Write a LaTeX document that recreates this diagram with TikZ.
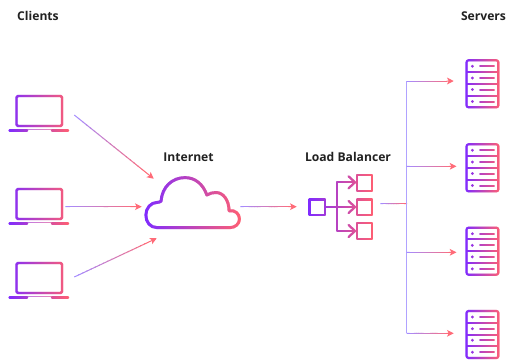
\documentclass[tikz,border=0pt]{standalone}
\usepackage{fontspec}
\setmainfont{Open Sans}
\usetikzlibrary{arrows.meta,calc}
\definecolor{gradA}{HTML}{7F2BFF}
\definecolor{gradB}{HTML}{FF5F72}
\definecolor{connA}{HTML}{A58CFF}
\definecolor{connB}{HTML}{FF6B78}
\definecolor{busline}{HTML}{B0A2FF}
\definecolor{labelc}{HTML}{222222}
\tikzset{
  label text/.style={font=\bfseries\fontsize{9.1}{11}\selectfont,text=labelc,inner sep=0pt},
  laptop box/.style={inner sep=0pt,minimum width=45.75pt,minimum height=27.75pt},
  server box/.style={inner sep=0pt,minimum width=25.5pt,minimum height=36.75pt},
  cloud box/.style={inner sep=0pt,minimum width=70.5pt,minimum height=37.5pt},
  lb box/.style={inner sep=0pt,minimum width=47.25pt,minimum height=47.25pt},
  conn line/.style={line width=0.75pt},
  bus line/.style={line width=0.8pt,color=busline},
  conn tip/.style={-{Stealth[length=5pt,width=5pt,inset=1.2pt]}},
  icon line/.style={line width=1.6pt,line join=round},
  fine line/.style={line width=1.5pt},
}
% vertical strips, each one colour: #1 left x, #2 right x, #3 drawing
\newcommand\gradicon[3]{%
  \pgfmathtruncatemacro\gradn{#2-#1}%
  \foreach \k in {0,...,\gradn}{%
    \pgfmathsetmacro\gradt{100*\k/\gradn}%
    \begin{scope}
      \clip ({#1+\k},-400) rectangle ({#1+\k+1.3},800);
      \begin{scope}[color=gradB!\gradt!gradA]
        #3
      \end{scope}
    \end{scope}
  }%
}
\newcommand\gradarrow[2]{%
  \foreach \k in {0,...,16}{%
    \pgfmathsetmacro\gradt{100*\k/18}%
    \draw[conn line,color=connB!\gradt!connA] ($(#1)!{\k/20}!(#2)$) -- ($(#1)!{(\k+1.2)/20}!(#2)$);
  }%
  \draw[conn line,conn tip,color=connB] ($(#1)!0.85!(#2)$) -- (#2);
}
\newcommand\laptopicon[1]{%
  \begin{scope}[shift={(0,#1)}]
  \gradicon{8}{69}{%
    \draw[line width=1.8pt,line join=round,rounded corners=1pt] (16.5,0) rectangle (62,30);
    \draw[line width=1.8pt,line cap=round] (9.5,34.4) -- (27,34.4);
    \draw[line width=1.8pt,line cap=round] (52,34.4) -- (68,34.4);
    \draw[line width=0.7pt,opacity=0.6] (27,33.8) -- (52,33.8);
  }
  \end{scope}%
}
\newcommand\servericon[1]{%
  \begin{scope}[shift={(0,#1)}]
  \gradicon{465}{500}{%
    \draw[icon line,rounded corners=1.5pt] (466.5,1) rectangle (498.3,48);
    \draw[fine line] (466,12.75) -- (498.5,12.75);
    \draw[fine line] (466,24.5) -- (498.5,24.5);
    \draw[fine line] (466,36.3) -- (498.5,36.3);
    \foreach \ry in {7,18.7,30.2,42.2}{
      \fill (472.3,\ry) circle (1.5);
      \draw[line width=1.5pt,line cap=round] (480,\ry) -- (493.8,\ry);
    }
  }
  \end{scope}%
}
\begin{document}
\begin{tikzpicture}[x=0.75pt,y=-0.75pt]
\useasboundingbox (0,0) rectangle (506,361);
\fill[white] (0,0) rectangle (506,361);

% labels
\node[label text] (clientsLabel) at (38,16) {Clients};
\node[label text] (internetLabel) at (188.5,157) {Internet};
\node[label text] (lbLabel) at (348,157) {Load Balancer};
\node[label text] (serversLabel) at (483.5,16) {Servers};

% icon anchors
\node[laptop box] (client1) at (39,113) {};
\node[laptop box] (client2) at (39,206) {};
\node[laptop box] (client3) at (39,280) {};
\node[cloud box] (cloud) at (192.5,202.5) {};
\node[lb box] (lb) at (340.5,207) {};
\node[server box] (server1) at (482,83.8) {};
\node[server box] (server2) at (482,167.8) {};
\node[server box] (server3) at (482,251.2) {};
\node[server box] (server4) at (482,334.5) {};

% laptops
\laptopicon{96}
\laptopicon{189}
\laptopicon{263}

% cloud
\gradicon{144}{241}{%
  \draw[line width=2.2pt,line join=round]
    (157,227.6) .. controls (150,227.6) and (145.8,222) .. (145.8,215)
    .. controls (145.8,208) and (151,202.4) .. (157,202.4)
    .. controls (158.5,202.4) and (160,202) .. (161,201.2)
    .. controls (162,187) and (172,177.6) .. (185,177.6)
    .. controls (195,177.6) and (203,184) .. (206.8,195)
    .. controls (209.5,193.2) and (213,192.5) .. (216,192.5)
    .. controls (223,192.5) and (229,200) .. (229,210.8)
    .. controls (235,209.5) and (239.4,214) .. (239.4,219)
    .. controls (239.4,224) and (235,227.6) .. (230,227.6)
    -- cycle;
}

% load balancer
\gradicon{308}{373}{%
  \draw[icon line] (309.5,199.5) rectangle (325,215);
  \draw[icon line] (357,175.3) rectangle (372,190.6);
  \draw[icon line] (357,199.5) rectangle (372,215);
  \draw[icon line] (357,223.3) rectangle (372,238.6);
  \draw[icon line] (325,207) -- (355,207);
  \draw[icon line] (355,182.3) -- (336.7,182.3) -- (336.7,231) -- (355,231);
  \foreach \cy in {182.3,207,231}{
    \draw[icon line,line cap=round] (348.5,\cy-6) -- (355,\cy) -- (348.5,\cy+6);
  }
}

% servers
\servericon{59.3}
\servericon{143.3}
\servericon{226.7}
\servericon{310}

% connector ends
\coordinate (c1out) at ($(client1.east)+(4.5,2)$);
\coordinate (c2out) at ($(client2.east)+(-4.5,0.7)$);
\coordinate (c3out) at ($(client3.east)+(4.5,-3)$);
\coordinate (cloudA) at ($(cloud.north west)+(8.5,1.5)$);
\coordinate (cloudB) at ($(cloud.west)+(-3.5,4.2)$);
\coordinate (cloudC) at ($(cloud.south west)+(11.5,10.5)$);
\coordinate (cloudOut) at ($(cloud.east)+(0.5,4.2)$);
\coordinate (lbIn) at ($(lb.west)+(-12,-0.3)$);
\coordinate (lbOut) at ($(lb.east)+(8,-3.3)$);
\coordinate (busJoin) at (406.7,203.7);
\coordinate (bus1) at (406.7,81);
\coordinate (bus2) at (406.7,166.3);
\coordinate (bus3) at (406.7,252.3);
\coordinate (bus4) at (406.7,333.3);
\coordinate (s1in) at ($(server1.west)+(-11,-2.8)$);
\coordinate (s2in) at ($(server2.west)+(-8.3,-1.5)$);
\coordinate (s3in) at ($(server3.west)+(-8.3,1.1)$);
\coordinate (s4in) at ($(server4.west)+(-11,-1.2)$);

% connectors
\gradarrow{c1out}{cloudA}
\gradarrow{c2out}{cloudB}
\gradarrow{c3out}{cloudC}
\gradarrow{cloudOut}{lbIn}
\foreach \k in {0,...,9}{
  \pgfmathsetmacro\gradt{100*\k/9}
  \draw[conn line,color=connB!\gradt!connA] ($(lbOut)!{\k/10}!(busJoin)$) -- ($(lbOut)!{(\k+1.2)/10}!(busJoin)$);
}
\draw[bus line] (bus1) -- (bus4);
\gradarrow{bus1}{s1in}
\gradarrow{bus2}{s2in}
\gradarrow{bus3}{s3in}
\gradarrow{bus4}{s4in}
\end{tikzpicture}
\end{document}
